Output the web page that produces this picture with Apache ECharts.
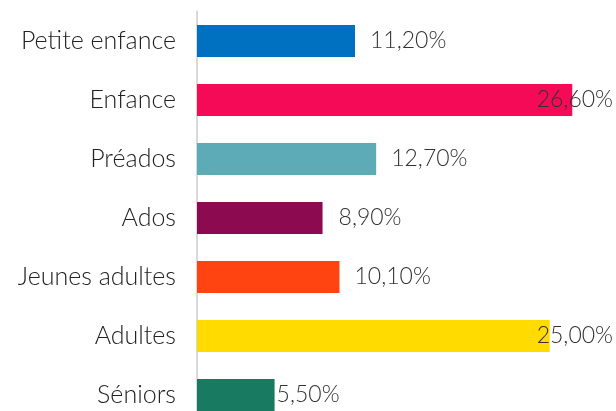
<!DOCTYPE html>
<html><head><meta charset="utf-8">
<script src="https://cdn.jsdelivr.net/npm/echarts@6/dist/echarts.min.js"></script>
<style>html,body{margin:0;padding:0;background:#fff}#c{width:616px;height:411px}</style>
</head><body><div id="c"></div>
<script>
var categories = ["Petite enfance","Enfance","Préados","Ados","Jeunes adultes","Adultes","Séniors"];
var values = [11.2, 26.6, 12.7, 8.9, 10.1, 25.0, 5.5];
var colors = ["#0070C0","#F50A57","#5EABB8","#8C0A50","#FF4412","#FFDB00","#187A60"];
var labelDistances = [15, 15, 15, 16, 15, 15, 2];

var chart = echarts.init(document.getElementById('c'));
var W = 616;
chart.setOption({
  animation: false,
  grid: {left: 197, right: 24, top: 11.5, height: 413, containLabel: false, outerBoundsMode: 'none'},
  xAxis: {type: 'value', min: 0, max: 28, show: false},
  yAxis: {
    type: 'category', inverse: true, data: categories,
    axisLine: {show: true, lineStyle: {color: '#d9d9d9', width: 2}},
    axisTick: {show: false},
    axisLabel: {color: '#222', fontFamily: 'Lato', fontWeight: 300, fontSize: 25, margin: 21}
  },
  series: [{
    type: 'bar', barWidth: 32,
    data: values.map(function(v, i){
      return {value: v, itemStyle: {color: colors[i]},
        label: {distance: labelDistances[i]}};
    }),
    label: {
      show: true, position: 'right', color: '#333',
      fontFamily: 'Lato', fontWeight: 300, fontSize: 23,
      formatter: function(p){ return p.value.toFixed(2).replace('.', ',') + '%'; }
    }
  }],
  labelLayout: function(params){
    var r = params.labelRect;
    if (r.x + r.width > W - 3) {
      return {dx: (W - 3) - (r.x + r.width)};
    }
    return {};
  }
});
</script></body></html>
